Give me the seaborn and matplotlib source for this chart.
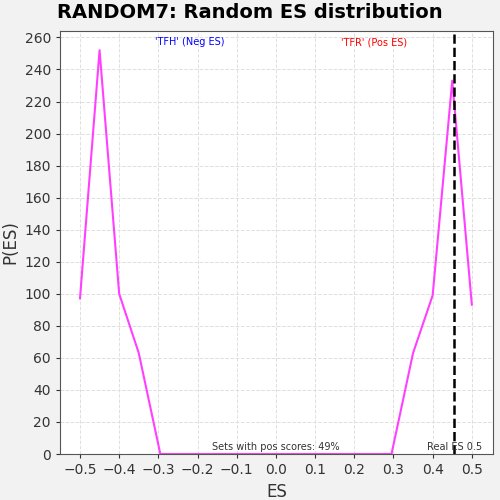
import matplotlib
matplotlib.use("Agg")
import matplotlib.pyplot as plt
import seaborn as sns
import pandas as pd

es = [-0.5, -0.45, -0.4, -0.35, -0.295, -0.25, -0.2, -0.15, -0.1, -0.05, 0.0,
      0.05, 0.1, 0.15, 0.2, 0.25, 0.295, 0.35, 0.4, 0.45, 0.5]
p_es = [97, 252, 100, 63, 0, 0, 0, 0, 0, 0, 0,
        0, 0, 0, 0, 0, 0, 63, 99, 233, 93]
real_es = 0.455

sns.set_style("whitegrid")
plt.rcParams['font.family'] = ['DejaVu Sans']

fig = plt.figure(figsize=(5, 5), dpi=100, facecolor='#f2f2f2')
ax = fig.add_axes([0.12, 0.092, 0.866, 0.846])
df = pd.DataFrame({'ES': es, 'P': p_es})
sns.lineplot(data=df, x='ES', y='P', ax=ax, color='#ff40ff', linewidth=1.5)
ax.axvline(real_es, color='black', linestyle='--', linewidth=1.8)

ax.set_xlim(-0.551, 0.554)
ax.set_ylim(0, 264)
ax.set_xticks([-0.5, -0.4, -0.3, -0.2, -0.1, 0.0, 0.1, 0.2, 0.3, 0.4, 0.5])
ax.set_yticks(range(0, 261, 20))
ax.grid(True, color='#e0e0e0', linestyle='--', linewidth=0.7)
for s in ax.spines.values():
    s.set_color('#555555')
    s.set_linewidth(0.8)
ax.tick_params(labelsize=10, colors='#333333', length=3, left=True, bottom=True)
ax.set_xlabel('ES', fontsize=12, color='#333333')
ax.set_ylabel('P(ES)', fontsize=12, color='#333333')
fig.suptitle('RANDOM7: Random ES distribution', fontsize=14, fontweight='bold',
             color='black', y=0.995)

ax.text(-0.22, 257, "'TFH' (Neg ES)", color='blue', fontsize=7, ha='center', va='center')
ax.text(0.25, 257, "'TFR' (Pos ES)", color='red', fontsize=7, ha='center', va='center')
ax.text(0.0, 1.5, "Sets with pos scores: 49%", color='#333333', fontsize=7, ha='center', va='bottom')
ax.text(0.455, 1.5, "Real ES 0.5", color='#333333', fontsize=7, ha='center', va='bottom')

fig.savefig('out.png', dpi=100, facecolor='#f2f2f2')
